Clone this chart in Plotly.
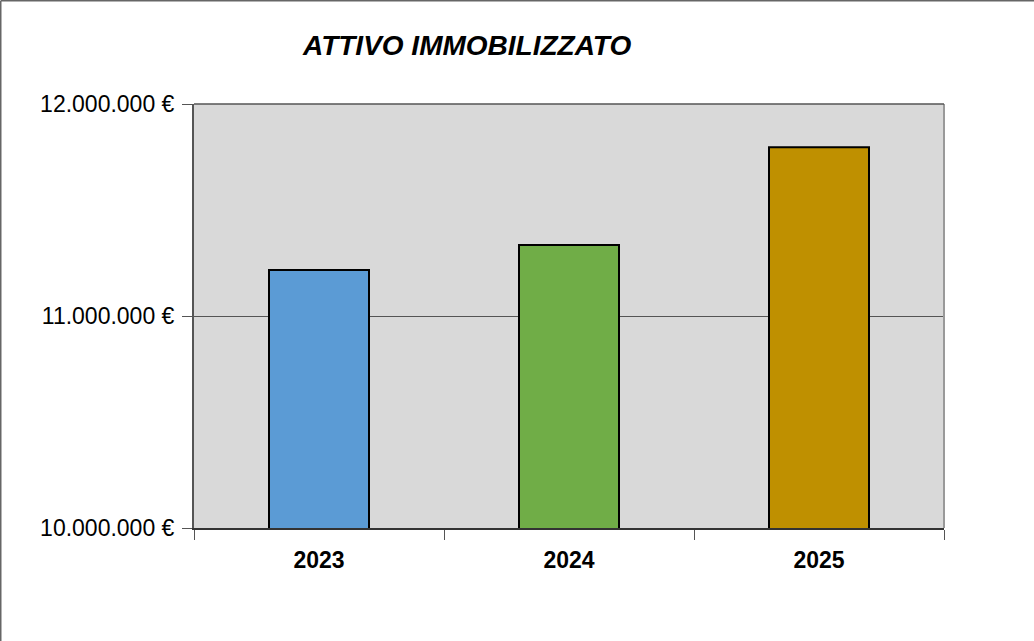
import plotly.graph_objects as go

years = ["2023", "2024", "2025"]
values = [11217000, 11335000, 11796000]
bar_colors = ["#5B9BD5", "#70AD47", "#BF9000"]
y_tick_vals = [10000000, 11000000, 12000000]
y_tick_text = ["10.000.000 €", "11.000.000 €", "12.000.000 €"]
title_text = "ATTIVO IMMOBILIZZATO"

W, H = 1034, 641
L, R, T, B = 194, 90, 104, 113
pw, ph = W - L - R, H - T - B

fig = go.Figure()
fig.add_trace(go.Bar(
    x=years, y=values,
    marker=dict(color=bar_colors, line=dict(color="#000000", width=2)),
    showlegend=False,
))

fig.update_layout(
    width=W, height=H,
    margin=dict(l=L, r=R, t=T, b=B, pad=0),
    paper_bgcolor="white",
    plot_bgcolor="#D9D9D9",
    bargap=0.6,
    font=dict(family="Liberation Sans, Arial", color="#000000"),
)

fig.update_xaxes(
    type="category",
    tickson="boundaries",
    ticks="outside", ticklen=10, tickcolor="#555555", tickwidth=1,
    showline=True, linecolor="#333333", linewidth=2, mirror=False,
    showgrid=False,
    tickfont=dict(size=23, family="Liberation Sans, Arial", color="#000000", weight="bold"),
    ticklabelstandoff=10,
)
fig.update_yaxes(
    range=[10000000, 12000000],
    tickvals=y_tick_vals, ticktext=y_tick_text,
    ticks="outside", ticklen=10, tickcolor="#555555", tickwidth=1,
    showline=True, linecolor="#555555", linewidth=2,
    showgrid=True, gridcolor="#555555", gridwidth=1,
    zeroline=False,
    tickfont=dict(size=23, family="Liberation Sans, Arial", color="#000000"),
    ticklabelstandoff=3,
)

# plot area right and top frame lines
fig.add_shape(type="line", xref="paper", yref="paper", x0=1, x1=1, y0=0, y1=1,
              line=dict(color="#999999", width=2))
fig.add_shape(type="line", xref="paper", yref="paper", x0=0, x1=1, y0=1, y1=1,
              line=dict(color="#555555", width=1.5))

# outer frame (top and left edges)
fx0 = (0.75 - L) / pw
fy1 = (H - B - 0.75) / ph
fy0 = (H - B - H) / ph
fx1 = (W - L) / pw
fig.add_shape(type="line", xref="paper", yref="paper", x0=fx0, x1=fx0, y0=fy0, y1=fy1,
              line=dict(color="#666666", width=1.5))
fig.add_shape(type="line", xref="paper", yref="paper", x0=fx0, x1=fx1, y0=fy1, y1=fy1,
              line=dict(color="#666666", width=1.5))

fig.add_annotation(
    text="<b><i>" + title_text + "</i></b>",
    xref="paper", yref="paper",
    x=(466.5 - L) / pw, y=(H - B - 45) / ph,
    xanchor="center", yanchor="middle",
    showarrow=False,
    font=dict(size=28, family="Liberation Sans, Arial", color="#000000"),
)

fig.write_html(
    "out.html",
    config={"displayModeBar": False},
    post_script="document.body.style.margin='0';document.body.style.overflow='hidden';",
)
